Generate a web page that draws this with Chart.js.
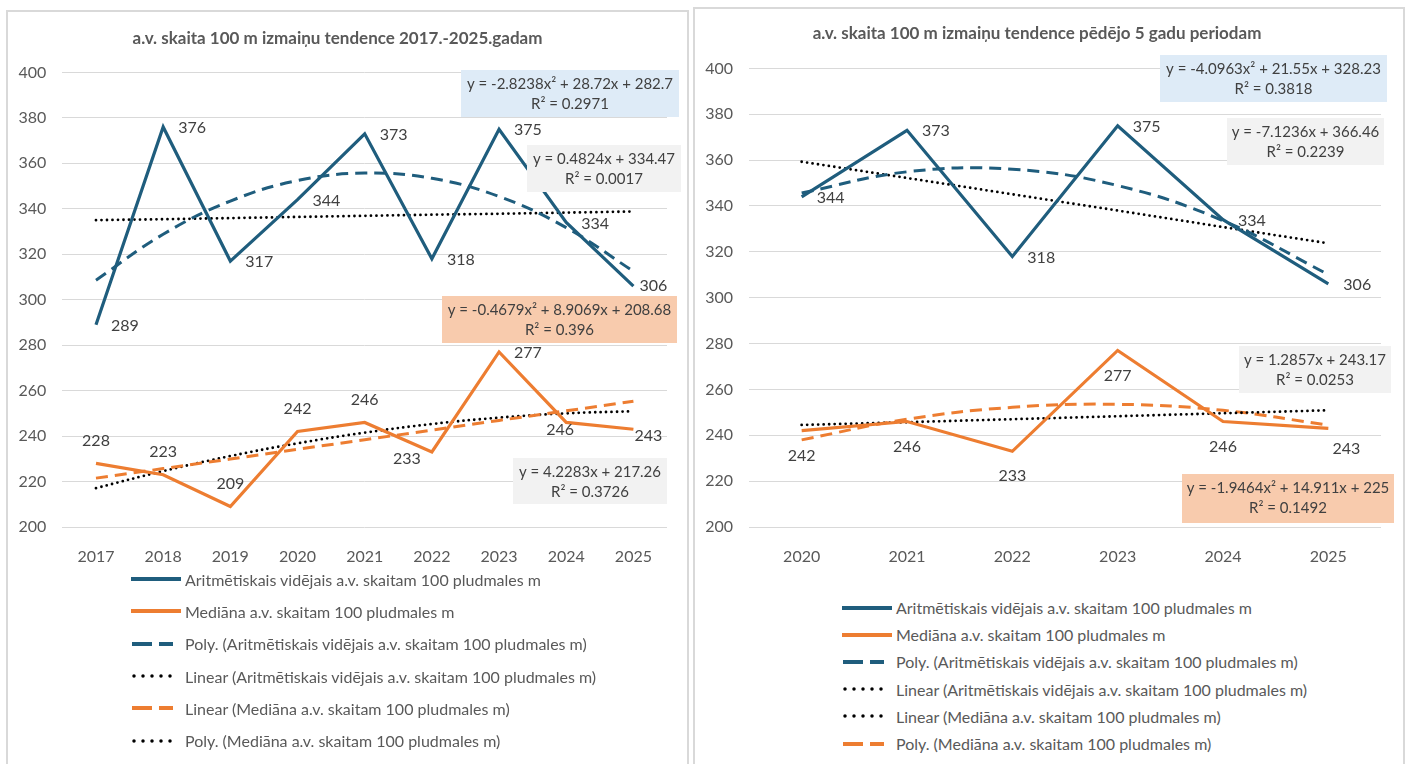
<!DOCTYPE html>
<html>
<head>
<meta charset="utf-8">
<script src="https://cdn.jsdelivr.net/npm/chart.js@4.4.1/dist/chart.umd.min.js"></script>
<style>
  body { margin: 0; background: #fff; font-family: Lato, "Liberation Sans", sans-serif; }
  .frame { position: absolute; border: 2px solid #d9d9d9; border-bottom: none; height: 800px; box-sizing: border-box; }
  canvas { position: absolute; }
  .legend { position: absolute; color: #595959; font-size: 16px; }
  .lg-row { display: flex; align-items: center; white-space: nowrap; }
  .lg-row svg { margin-right: 4px; flex: none; }
</style>
</head>
<body>
<div class="frame" style="left:6px; top:10px; width:683px;"></div>
<div class="frame" style="left:693px; top:7px; width:712px;"></div>
<canvas id="chartAll" width="678" height="556" style="left:8px; top:11px;"></canvas>
<canvas id="chartRecent" width="710" height="558" style="left:693px; top:9px;"></canvas>
<div id="legendAll" class="legend" style="left:131px; top:563px;"></div>
<div id="legendRecent" class="legend" style="left:842px; top:594px;"></div>
<script>
// 2017-2025
const yearsAll = ['2017', '2018', '2019', '2020', '2021', '2022', '2023', '2024', '2025'];
const avgAll = [289, 376, 317, 344, 373, 318, 375, 334, 306];
const medAll = [228, 223, 209, 242, 246, 233, 277, 246, 243];
const avgAllPoly = [308.6, 328.8, 343.4, 352.4, 355.7, 353.4, 345.4, 331.7, 312.5];
const avgAllLin = [335.0, 335.4, 335.9, 336.4, 336.9, 337.4, 337.8, 338.3, 338.8];
const medAllLin = [221.5, 225.7, 229.9, 234.2, 238.4, 242.6, 246.9, 251.1, 255.3];
const medAllPoly = [217.1, 224.6, 231.2, 236.8, 241.5, 245.3, 248.1, 250.0, 250.9];

// last 5 years
const yearsRecent = ['2020', '2021', '2022', '2023', '2024', '2025'];
const avgRecent = [344, 373, 318, 375, 334, 306];
const medRecent = [242, 246, 233, 277, 246, 243];
const avgRecentPoly = [345.7, 354.9, 356.0, 348.9, 333.6, 310.1];
const avgRecentLin = [359.3, 352.2, 345.1, 338.0, 330.8, 323.7];
const medRecentLin = [244.5, 245.7, 247.0, 248.3, 249.6, 250.9];
const medRecentPoly = [238.0, 247.0, 252.2, 253.5, 250.9, 244.4];

const yMin = 200, yMax = 400, yStep = 20;

const nameAvg = 'Aritmētiskais vidējais a.v. skaitam 100 pludmales m';
const nameMed = 'Mediāna a.v. skaitam 100 pludmales m';

const BLUE = '#1f5d7d', ORANGE = '#ed7d31', BLACK = '#000000';
const solid = { borderWidth: 3.2 };
const dashed = { borderWidth: 3, borderDash: [12, 7] };
const dotted = { borderWidth: 2.8, borderDash: [0, 5.5], borderCapStyle: 'round' };

// where each value label sits: [textAlign, dx, dy]
const labelPlaces = {
  right: ['left', 15, 1],
  rightNear: ['left', 6, 0],
  above: ['center', 0, -23],
  below: ['center', 0, 25],
  left: ['right', -11, 7],
  on: ['center', -6, 7],
  onRight: ['center', 15, 7],
  belowRight: ['center', 18, 20]
};

const valueLabels = {
  id: 'valueLabels',
  afterDraw(chart) {
    const ctx = chart.ctx;
    ctx.save();
    ctx.font = '16px Lato, "Liberation Sans", sans-serif';
    ctx.fillStyle = '#404040';
    ctx.textBaseline = 'middle';
    chart.data.datasets.forEach((ds, i) => {
      if (!ds.labelPos) return;
      chart.getDatasetMeta(i).data.forEach((pt, j) => {
        const [align, dx, dy] = labelPlaces[ds.labelPos[j]];
        ctx.textAlign = align;
        ctx.fillText(String(ds.data[j]), pt.x + dx, pt.y + dy);
      });
    });
    // trendline equation boxes
    ctx.font = '15px Lato, "Liberation Sans", sans-serif';
    (chart.options.plugins.valueLabels.boxes || []).forEach(b => {
      ctx.fillStyle = b.bg;
      ctx.fillRect(b.x, b.y, b.w, b.h);
      ctx.fillStyle = '#404040';
      ctx.textAlign = 'center';
      ctx.fillText(b.lines[0], b.x + b.w / 2, b.y + 14);
      ctx.fillText(b.lines[1], b.x + b.w / 2, b.y + 34);
    });
    ctx.restore();
  }
};

Chart.defaults.font.family = 'Lato, "Liberation Sans", sans-serif';
Chart.defaults.color = '#595959';

function makeChart(id, labels, sets, opt) {
  return new Chart(document.getElementById(id), {
    type: 'line',
    data: { labels, datasets: sets },
    plugins: [valueLabels],
    options: {
      responsive: false,
      animation: false,
      layout: { padding: { left: 0, right: opt.padRight, top: 0, bottom: 0 } },
      elements: { point: { radius: 0 } },
      plugins: {
        legend: { display: false },
        tooltip: { enabled: false },
        title: {
          display: true,
          text: opt.title,
          color: '#595959',
          font: { size: 17, weight: 'bold' },
          padding: { top: opt.titleTop, bottom: opt.titleBottom }
        },
        valueLabels: { boxes: opt.boxes }
      },
      scales: {
        x: {
          offset: true,
          grid: { display: false },
          border: { display: false },
          ticks: { padding: 12, font: { size: 16 }, color: '#595959' },
          afterFit: s => { s.height = 40; }
        },
        y: {
          min: yMin,
          max: yMax,
          ticks: { stepSize: yStep, padding: 16, font: { size: 16 }, color: '#595959' },
          grid: { color: '#d9d9d9', lineWidth: 1, drawTicks: false },
          border: { display: false },
          afterFit: s => { s.width = opt.axisWidth; }
        }
      }
    }
  });
}

const chartAll = makeChart('chartAll', yearsAll, [
  { label: nameAvg, data: avgAll, borderColor: BLUE, ...solid,
    labelPos: ['right', 'right', 'right', 'right', 'right', 'right', 'right', 'right', 'rightNear'] },
  { label: nameMed, data: medAll, borderColor: ORANGE, ...solid,
    labelPos: ['above', 'above', 'above', 'above', 'above', 'left', 'right', 'on', 'onRight'] },
  { label: 'Poly. (' + nameAvg + ')', data: avgAllPoly, borderColor: BLUE, ...dashed, tension: 0.4 },
  { label: 'Linear (' + nameAvg + ')', data: avgAllLin, borderColor: BLACK, ...dotted },
  { label: 'Linear (' + nameMed + ')', data: medAllLin, borderColor: ORANGE, ...dashed },
  { label: 'Poly. (' + nameMed + ')', data: medAllPoly, borderColor: BLACK, ...dotted, tension: 0.4 }
], {
  title: 'a.v. skaita 100 m izmaiņu tendence 2017.-2025.gadam',
  titleTop: 17, titleBottom: 24, padRight: 19, axisWidth: 54.4,
  boxes: [
    { x: 453, y: 59, w: 218, h: 47, bg: '#deebf7', lines: ['y = -2.8238x² + 28.72x + 282.7', 'R² = 0.2971'] },
    { x: 519, y: 134, w: 154, h: 47, bg: '#f2f2f2', lines: ['y = 0.4824x + 334.47', 'R² = 0.0017'] },
    { x: 434, y: 285, w: 235, h: 47, bg: '#f8cbad', lines: ['y = -0.4679x² + 8.9069x + 208.68', 'R² = 0.396'] },
    { x: 505, y: 447, w: 154, h: 46, bg: '#f2f2f2', lines: ['y = 4.2283x + 217.26', 'R² = 0.3726'] }
  ]
});

const chartRecent = makeChart('chartRecent', yearsRecent, [
  { label: nameAvg, data: avgRecent, borderColor: BLUE, ...solid,
    labelPos: ['right', 'right', 'right', 'right', 'right', 'right'] },
  { label: nameMed, data: medRecent, borderColor: ORANGE, ...solid,
    labelPos: ['below', 'below', 'below', 'below', 'below', 'belowRight'] },
  { label: 'Poly. (' + nameAvg + ')', data: avgRecentPoly, borderColor: BLUE, ...dashed, tension: 0.4 },
  { label: 'Linear (' + nameAvg + ')', data: avgRecentLin, borderColor: BLACK, ...dotted },
  { label: 'Linear (' + nameMed + ')', data: medRecentLin, borderColor: BLACK, ...dotted },
  { label: 'Poly. (' + nameMed + ')', data: medRecentPoly, borderColor: ORANGE, ...dashed, tension: 0.4 }
], {
  title: 'a.v. skaita 100 m izmaiņu tendence pēdējo 5 gadu periodam',
  titleTop: 14, titleBottom: 25, padRight: 22, axisWidth: 56,
  boxes: [
    { x: 467, y: 46, w: 227, h: 47, bg: '#deebf7', lines: ['y = -4.0963x² + 21.55x + 328.23', 'R² = 0.3818'] },
    { x: 534, y: 109, w: 157, h: 47, bg: '#f2f2f2', lines: ['y = -7.1236x + 366.46', 'R² = 0.2239'] },
    { x: 546, y: 337, w: 152, h: 47, bg: '#f2f2f2', lines: ['y = 1.2857x + 243.17', 'R² = 0.0253'] },
    { x: 489, y: 465, w: 212, h: 49, bg: '#f8cbad', lines: ['y = -1.9464x² + 14.911x + 225', 'R² = 0.1492'] }
  ]
});

// html legend, one entry per row, built from the datasets
function buildLegend(el, chart, rowH) {
  chart.data.datasets.forEach(ds => {
    let line;
    if (!ds.borderDash) {
      line = `<line x1="0" y1="6" x2="50" y2="6" stroke="${ds.borderColor}" stroke-width="4"/>`;
    } else if (ds.borderDash[0] === 0) {
      line = `<line x1="3" y1="6" x2="48" y2="6" stroke="${ds.borderColor}" stroke-width="3.5" stroke-dasharray="0 9" stroke-linecap="round"/>`;
    } else {
      line = `<line x1="1" y1="6" x2="42" y2="6" stroke="${ds.borderColor}" stroke-width="4" stroke-dasharray="20 7"/>`;
    }
    const row = document.createElement('div');
    row.className = 'lg-row';
    row.style.height = rowH + 'px';
    row.innerHTML = `<svg width="50" height="12">${line}</svg><span>${ds.label}</span>`;
    el.appendChild(row);
  });
}
buildLegend(document.getElementById('legendAll'), chartAll, 32.3);
buildLegend(document.getElementById('legendRecent'), chartRecent, 27.2);
</script>
</body>
</html>
